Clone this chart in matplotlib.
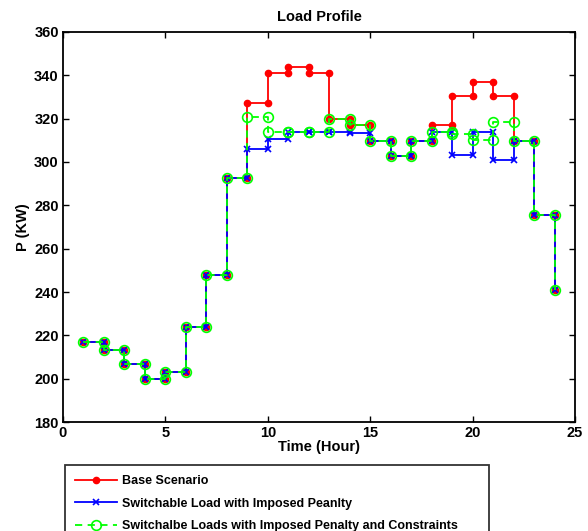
import matplotlib
matplotlib.use("Agg")
import matplotlib.pyplot as plt
import numpy as np

hours = np.arange(1, 25)

base = [217, 213.4, 206.6, 199.7, 203.2, 223.8, 248, 292.5, 327, 341, 344, 341,
        320, 317, 309.8, 302.8, 309.7, 317, 330.5, 337, 330.5, 309.7, 275.5, 241]
penalty = [217, 213.4, 206.6, 199.7, 203.2, 223.8, 248, 292.5, 306, 310.5, 313.9, 313.9,
           313.9, 313.3, 309.8, 302.8, 309.7, 313.7, 303.4, 313.7, 301, 309.7, 275.5, 241]
constrained = [217, 213.4, 206.6, 199.7, 203.2, 223.8, 248, 292.5, 320.9, 314, 314, 314,
               320, 317, 309.8, 302.8, 309.7, 313.7, 313, 310, 318.4, 309.7, 275.5, 241]

labels = ["Base Scenario",
          "Switchable Load with Imposed Peanlty",
          "Switchalbe Loads with Imposed Penalty and Constraints"]


def steps(vals):
    # each hour is held until the next one, last hour is a single point
    x = np.repeat(hours, 2)[1:]
    y = np.repeat(np.asarray(vals, dtype=float), 2)[:-1]
    return x, y


plt.rcParams['font.family'] = ['Liberation Sans', 'DejaVu Sans']
plt.rcParams['font.weight'] = 'bold'

fig = plt.figure(figsize=(5.88, 5.31), dpi=100)
ax = fig.add_axes([0.107, 0.205, 0.871, 0.735])

x, y = steps(base)
ax.plot(x, y, color='#ff0000', lw=1.3, marker='o', ms=4.5, mec='#ff0000', label=labels[0])
x, y = steps(penalty)
ax.plot(x, y, color='#0000ff', lw=1.3, marker='x', ms=4.5, mew=1.2, label=labels[1])
x, y = steps(constrained)
ax.plot(x, y, color='#00ff00', lw=1.3, ls=(0, (4, 3)), marker='o', ms=7, mfc='none',
        mew=1.2, label=labels[2])

ax.set_xlim(0, 25)
ax.set_ylim(180, 360)
ax.set_xticks(range(0, 26, 5))
ax.set_yticks(range(180, 361, 20))
ax.tick_params(direction='in', top=True, right=True, labelsize=10.5, length=4, width=1, pad=3)
for s in ax.spines.values():
    s.set_linewidth(1.3)

ax.set_title("Load Profile", fontsize=10.5, fontweight='bold', pad=8)
ax.set_xlabel("Time (Hour)", fontsize=10.5, fontweight='bold', labelpad=0)
ax.set_ylabel("P (KW)", fontsize=10.5, fontweight='bold', labelpad=3)

leg = ax.legend(loc='upper left', bbox_to_anchor=(0.004, -0.12, 0.828, 0.01), mode='expand',
                fontsize=9, frameon=True, fancybox=False, edgecolor='black',
                handlelength=3.4, handletextpad=0.35, labelspacing=0.85, borderpad=0.8,
                borderaxespad=0)
leg.get_frame().set_linewidth(1.3)

fig.savefig("out.png", dpi=100)
